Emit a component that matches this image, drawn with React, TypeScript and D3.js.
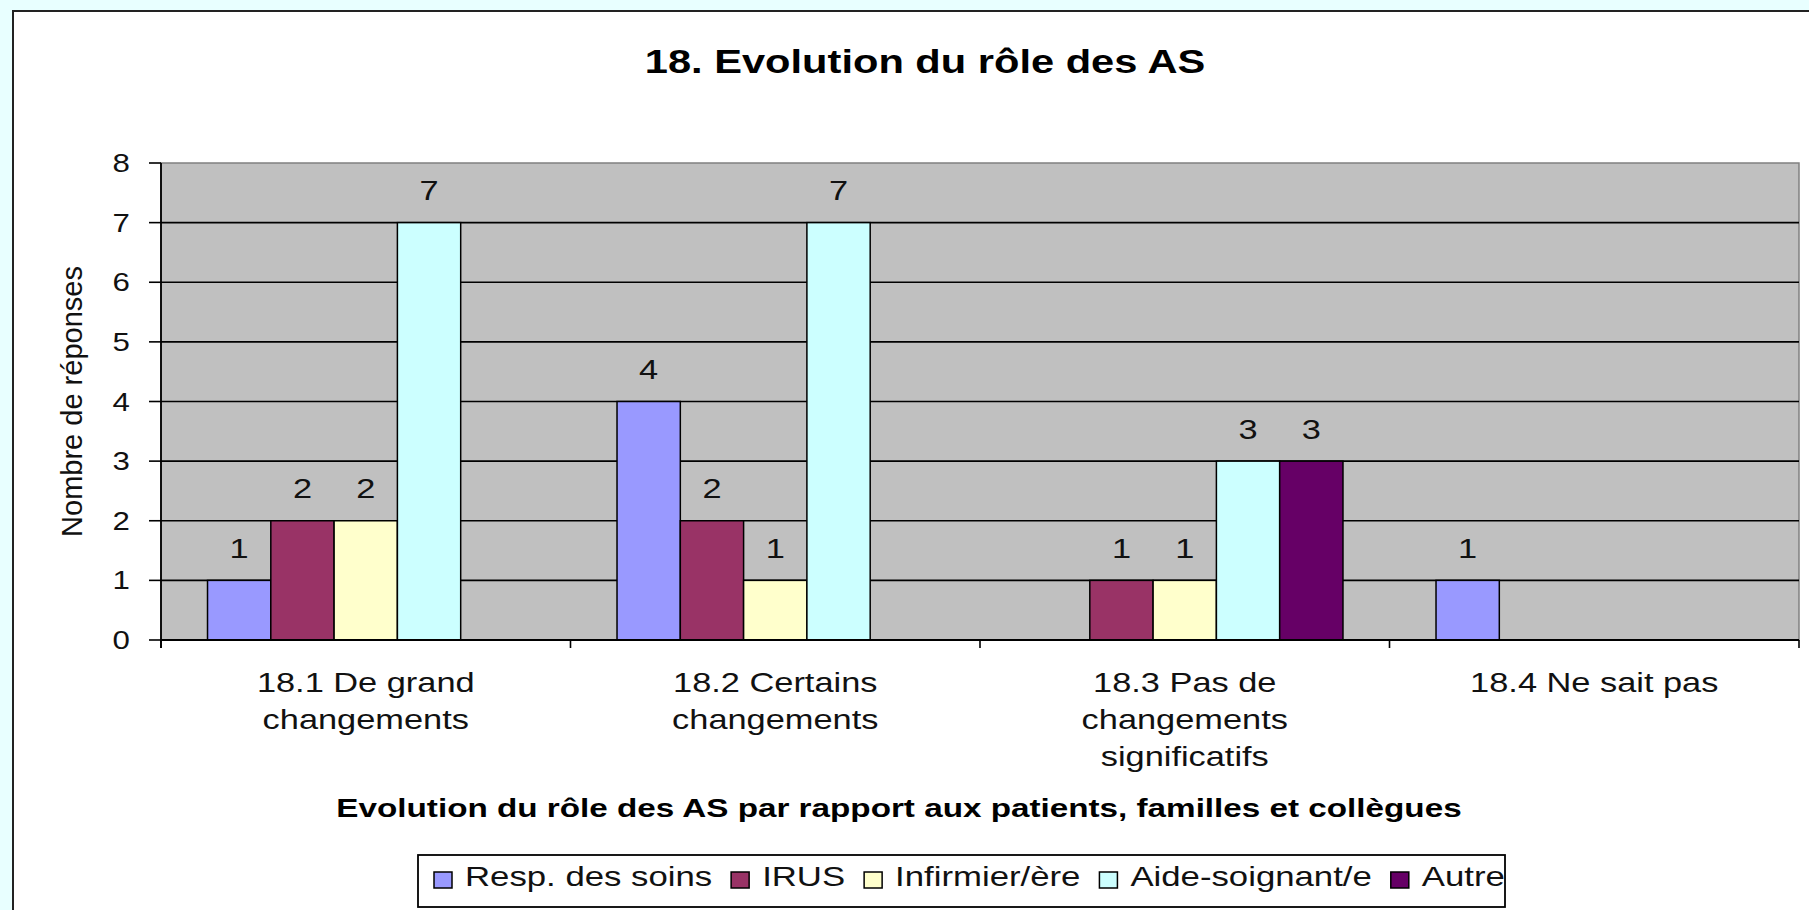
import * as d3 from 'd3'
import { useEffect, useRef } from 'react'

// categories (each entry = lines of the label)
const categories = [
  ['18.1 De grand', 'changements'],
  ['18.2 Certains', 'changements'],
  ['18.3 Pas de', 'changements', 'significatifs'],
  ['18.4 Ne sait pas'],
]
const seriesNames = ['Resp. des soins', 'IRUS', 'Infirmier/ère', 'Aide-soignant/e', 'Autre']
const seriesColors = ['#9999FF', '#993366', '#FFFFCC', '#CCFFFF', '#660066']

// values per category, in series order
const respSoins = [1, 4, 0, 1]
const irus = [2, 2, 1, 0]
const infirmier = [2, 1, 1, 0]
const aideSoignant = [7, 7, 3, 0]
const autre = [0, 0, 3, 0]

const yTicks = [0, 1, 2, 3, 4, 5, 6, 7, 8]

const W = 1809
const H = 910
const SX = 1.25 // the original picture is stretched horizontally
const FONT = '"Liberation Sans", Arial, sans-serif'

export default function App() {
  const svgRef = useRef<SVGSVGElement>(null)

  useEffect(() => {
    const svg = d3.select(svgRef.current)
    svg.selectAll('*').remove()

    const series = [respSoins, irus, infirmier, aideSoignant, autre]
    const margin = { left: 161, right: 1799, top: 163, bottom: 640 }

    const x0 = d3.scaleBand<number>()
      .domain(d3.range(categories.length))
      .range([margin.left, margin.right])
    const gap = 1.47 // excel gap width, as fraction of a bar
    const barW = x0.bandwidth() / (series.length + gap)
    const x1 = d3.scaleBand<number>()
      .domain(d3.range(series.length))
      .range([barW * gap / 2, barW * gap / 2 + barW * series.length])
    const y = d3.scaleLinear().domain([0, 8]).range([margin.bottom, margin.top])

    // page background + chart frame
    svg.append('rect').attr('width', W).attr('height', H).attr('fill', '#E8FFFF')
    svg.append('rect')
      .attr('x', 13).attr('y', 11).attr('width', W + 20).attr('height', H + 20)
      .attr('fill', '#fff').attr('stroke', '#222').attr('stroke-width', 2)

    const stretched = (sel: any, tx: number, ty: number) =>
      sel.attr('transform', `translate(${tx},${ty}) scale(${SX},1)`)

    // title
    stretched(svg.append('text'), 925, 73)
      .attr('text-anchor', 'middle').attr('font-family', FONT)
      .attr('font-size', 33.3).attr('font-weight', 'bold').attr('fill', '#000')
      .text('18. Evolution du rôle des AS')

    // plot area
    svg.append('rect')
      .attr('x', margin.left).attr('y', margin.top)
      .attr('width', margin.right - margin.left).attr('height', margin.bottom - margin.top)
      .attr('fill', '#C0C0C0').attr('stroke', '#808080').attr('stroke-width', 1.5)

    // gridlines
    svg.append('g').selectAll('line')
      .data(yTicks.filter(t => t > 0 && t < 8))
      .join('line')
      .attr('x1', margin.left).attr('x2', margin.right)
      .attr('y1', d => y(d)).attr('y2', d => y(d))
      .attr('stroke', '#000').attr('stroke-width', 1.6)

    // bars
    const groups = svg.append('g').selectAll('g')
      .data(categories.map((_, i) => i))
      .join('g')
      .attr('transform', i => `translate(${x0(i)},0)`)

    groups.selectAll('rect')
      .data(i => series.map((s, k) => ({ k, v: s[i] })).filter(d => d.v > 0))
      .join('rect')
      .attr('x', d => x1(d.k)!)
      .attr('width', x1.bandwidth())
      .attr('y', d => y(d.v))
      .attr('height', d => y(0) - y(d.v))
      .attr('fill', d => seriesColors[d.k])
      .attr('stroke', '#000').attr('stroke-width', 1.5)

    // data labels (zero values get none)
    groups.selectAll('text')
      .data(i => series.map((s, k) => ({ k, v: s[i] })).filter(d => d.v > 0))
      .join('text')
      .attr('transform', d => `translate(${x1(d.k)! + x1.bandwidth() / 2},${y(d.v) - 22.5}) scale(${SX},1)`)
      .attr('text-anchor', 'middle').attr('font-family', FONT)
      .attr('font-size', 27.5).attr('fill', '#111')
      .text(d => d.v)

    // y axis
    svg.append('line')
      .attr('x1', margin.left).attr('x2', margin.left)
      .attr('y1', margin.top).attr('y2', margin.bottom + 8)
      .attr('stroke', '#000').attr('stroke-width', 1.8)
    const yt = svg.append('g').selectAll('g').data(yTicks).join('g')
    yt.append('line')
      .attr('x1', margin.left - 12).attr('x2', margin.left)
      .attr('y1', d => y(d)).attr('y2', d => y(d))
      .attr('stroke', '#000').attr('stroke-width', 1.6)
    yt.append('text')
      .attr('transform', d => `translate(130,${y(d) + 9}) scale(${SX},1)`)
      .attr('text-anchor', 'end').attr('font-family', FONT)
      .attr('font-size', 25).attr('fill', '#111')
      .text(d => d)

    // x axis
    svg.append('line')
      .attr('x1', margin.left).attr('x2', margin.right)
      .attr('y1', margin.bottom).attr('y2', margin.bottom)
      .attr('stroke', '#000').attr('stroke-width', 1.8)
    svg.append('g').selectAll('line')
      .data(d3.range(categories.length + 1))
      .join('line')
      .attr('x1', i => margin.left + i * x0.bandwidth())
      .attr('x2', i => margin.left + i * x0.bandwidth())
      .attr('y1', margin.bottom).attr('y2', margin.bottom + 8)
      .attr('stroke', '#000').attr('stroke-width', 1.6)

    // category labels
    categories.forEach((lines, i) => {
      lines.forEach((ln, j) => {
        stretched(svg.append('text'), x0(i)! + x0.bandwidth() / 2, 692 + j * 37)
          .attr('text-anchor', 'middle').attr('font-family', FONT)
          .attr('font-size', 27.5).attr('fill', '#111')
          .text(ln)
      })
    })

    // axis titles
    stretched(svg.append('text'), 899, 817)
      .attr('text-anchor', 'middle').attr('font-family', FONT)
      .attr('font-size', 26.6).attr('font-weight', 'bold').attr('fill', '#000')
      .text('Evolution du rôle des AS par rapport aux patients, familles et collègues')

    svg.append('text')
      .attr('transform', `translate(81.5,${(margin.top + margin.bottom) / 2}) rotate(-90)`)
      .attr('text-anchor', 'middle').attr('font-family', FONT)
      .attr('font-size', 29).attr('fill', '#111')
      .text('Nombre de réponses')

    // legend
    const legend = svg.append('g')
    legend.append('rect')
      .attr('x', 418).attr('y', 855).attr('width', 1087).attr('height', 52)
      .attr('fill', '#fff').attr('stroke', '#000').attr('stroke-width', 1.8)
    let lx = 434
    seriesNames.forEach((name, k) => {
      legend.append('rect')
        .attr('x', lx).attr('y', 872).attr('width', 18).attr('height', 16)
        .attr('fill', seriesColors[k]).attr('stroke', '#000').attr('stroke-width', 1.5)
      const t = stretched(legend.append('text'), lx + 31, 886)
        .attr('font-family', FONT).attr('font-size', 27.8).attr('fill', '#111')
        .text(name)
      const w = (t.node() as SVGTextElement).getComputedTextLength() * SX
      lx += 31 + w + 19
    })
  }, [])

  return (
    <svg
      ref={svgRef}
      width={W}
      height={H}
      style={{ position: 'absolute', left: 0, top: 0, display: 'block' }}
    />
  )
}
